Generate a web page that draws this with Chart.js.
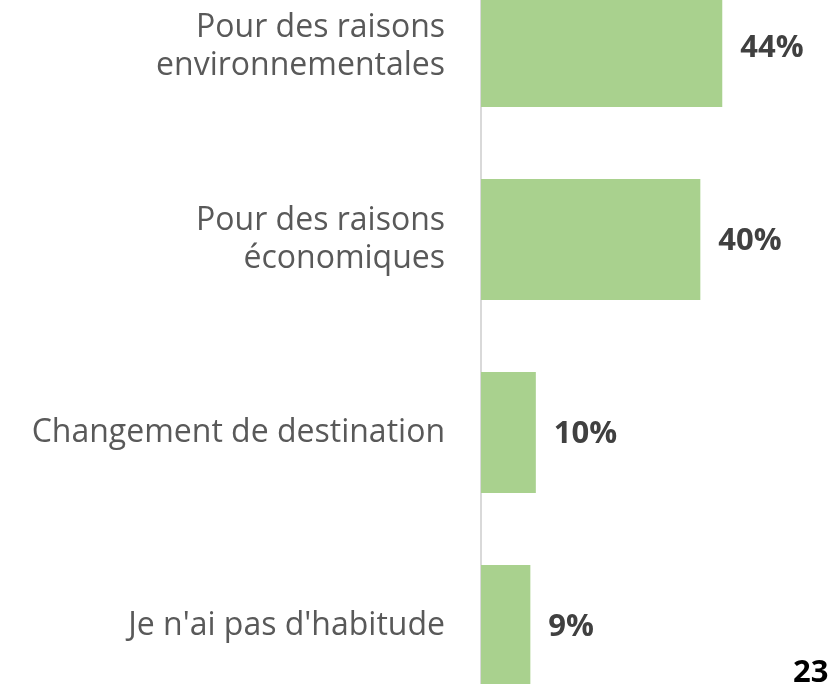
<!DOCTYPE html>
<html>
<head>
<meta charset="utf-8">
<script src="https://cdn.jsdelivr.net/npm/chart.js@4.4.0/dist/chart.umd.min.js"></script>
<style>
  html, body { margin: 0; padding: 0; background: #ffffff; }
  #wrap { position: relative; width: 836px; height: 684px; overflow: hidden; background: #ffffff; }
  #c { position: absolute; left: 0; top: -50px; width: 836px; height: 772px; }
  #page { position: absolute; left: 793px; top: 655px; font: bold 31px "Open Sans", sans-serif; line-height: 31px; color: #000000; }
</style>
</head>
<body>
<div id="wrap">
  <canvas id="c" width="836" height="772"></canvas>
  <div id="page">23</div>
</div>
<script>
const categories = [
  ["Pour des raisons", "environnementales"],
  ["Pour des raisons", "économiques"],
  "Changement de destination",
  "Je n'ai pas d'habitude"
];
const values = [44, 40, 10, 9];
const valueLabels = ["44%", "40%", "10%", "9%"];

const valueLabelPlugin = {
  id: 'valueLabels',
  afterDatasetsDraw(chart) {
    const ctx = chart.ctx;
    const meta = chart.getDatasetMeta(0);
    ctx.save();
    ctx.font = 'bold 31px "Open Sans", sans-serif';
    ctx.fillStyle = '#404040';
    ctx.textAlign = 'left';
    ctx.textBaseline = 'middle';
    meta.data.forEach((bar, i) => {
      ctx.fillText(valueLabels[i], bar.x + 18, bar.y + 2);
    });
    ctx.restore();
  }
};

new Chart(document.getElementById('c'), {
  type: 'bar',
  data: {
    labels: categories,
    datasets: [{
      data: values,
      backgroundColor: '#a9d18e',
      borderWidth: 0,
      categoryPercentage: 1,
      barPercentage: 0.627
    }]
  },
  options: {
    indexAxis: 'y',
    responsive: false,
    animation: false,
    layout: { padding: { left: 0, right: 26, top: 0, bottom: 0 } },
    plugins: { legend: { display: false }, tooltip: { enabled: false } },
    scales: {
      x: {
        display: false,
        min: 0,
        max: 60
      },
      y: {
        afterFit(scale) {
          scale.width = 481;
          scale.paddingTop = 0;
          scale.paddingBottom = 0;
        },
        grid: { display: false, drawTicks: false },
        border: { display: true, color: '#d9d9d9', width: 2 },
        ticks: {
          padding: 36,
          color: '#595959',
          font: { family: '"Open Sans", sans-serif', size: 32, lineHeight: 1.19 }
        }
      }
    }
  },
  plugins: [valueLabelPlugin]
});
</script>
</body>
</html>
